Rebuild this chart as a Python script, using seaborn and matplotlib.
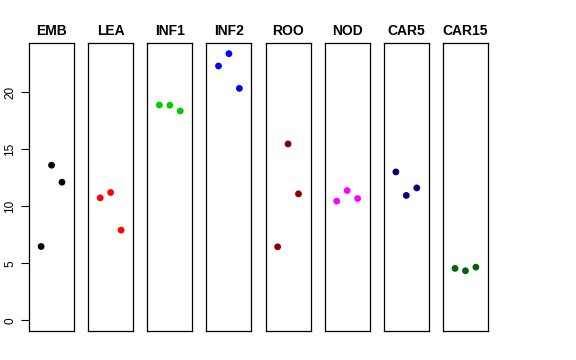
import pandas as pd
import matplotlib
matplotlib.use('Agg')
import matplotlib.pyplot as plt
import seaborn as sns

# =========================================
# Data
# =========================================
stages = ['EMB', 'LEA', 'INF1', 'INF2', 'ROO', 'NOD', 'CAR5', 'CAR15']
colors = ['black', 'red', '#00CD00', 'blue', '#8B0000', 'magenta', '#000080', '#006400']
replicate = [1, 2, 3]
values = {
    'EMB': [6.47, 13.59, 12.10],
    'LEA': [10.73, 11.20, 7.90],
    'INF1': [18.86, 18.84, 18.34],
    'INF2': [22.28, 23.36, 20.32],
    'ROO': [6.44, 15.45, 11.08],
    'NOD': [10.44, 11.37, 10.67],
    'CAR5': [13.00, 10.94, 11.60],
    'CAR15': [4.55, 4.34, 4.66],
}
yticks = [0, 5, 10, 15, 20]

rows = []
for s in stages:
    for r, v in zip(replicate, values[s]):
        rows.append({'stage': s, 'rep': r, 'value': v})
df = pd.DataFrame(rows)

# =========================================
# Plot
# =========================================
sns.set_style('white')
plt.rcParams['font.family'] = ['Liberation Sans', 'DejaVu Sans']
plt.rcParams['text.color'] = 'black'
plt.rcParams['axes.labelcolor'] = 'black'
plt.rcParams['ytick.color'] = 'black'

fig, axes = plt.subplots(1, 8, figsize=(5.76, 3.6), dpi=100, sharey=True)
fig.subplots_adjust(left=29/576, right=488/576, bottom=29/360, top=(360-43)/360,
                    wspace=14/45)

ymax = max(max(v) for v in values.values())
pad = ymax * 0.04

for ax, s, c in zip(axes, stages, colors):
    sub = df[df['stage'] == s]
    sns.scatterplot(data=sub, x='rep', y='value', color=c, s=24,
                    edgecolor='none', ax=ax, legend=False)
    ax.set_xlim(-0.16, 4.16)
    ax.set_ylim(-pad, ymax + pad)
    ax.set_title(s, fontsize=10, fontweight='bold', pad=6, color='black')
    ax.set_xlabel('')
    ax.set_ylabel('')
    ax.set_xticks([])
    for sp in ax.spines.values():
        sp.set_visible(True)
        sp.set_color('black')
        sp.set_linewidth(0.9)
    ax.tick_params(axis='y', left=False, labelleft=False)

axes[0].set_yticks(yticks)
axes[0].tick_params(axis='y', left=True, labelleft=True, length=5.5, width=0.8,
                    labelsize=8.5, labelrotation=90, color='black', labelcolor='black')
for lbl in axes[0].get_yticklabels():
    lbl.set_va('center')

fig.savefig('out.png', dpi=100)
